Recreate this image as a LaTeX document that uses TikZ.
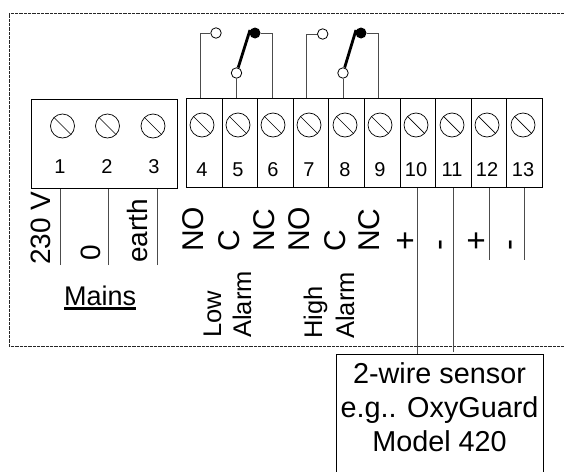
\documentclass[tikz,border=0pt]{standalone}
\usepackage{fontspec}
\setmainfont{Liberation Sans}
\usepackage{tikz}
\tikzset{
	cell/.style={draw, line width=1pt, anchor=north west, minimum width=35.6pt, minimum height=89pt, inner sep=0pt},
	screw/.style={draw, circle, line width=0.7pt, minimum size=24pt, inner sep=0pt},
	num/.style={font=\fontsize{20}{20}\selectfont, inner sep=0pt},
	contact/.style={draw, circle, fill=white, line width=0.8pt, minimum size=10.5pt, inner sep=0pt},
	pivot/.style={circle, fill=black, minimum size=11pt, inner sep=0pt},
	wire/.style={draw=black!70, line width=0.9pt},
	side/.style={rotate=90, anchor=base west, inner sep=0pt, font=\fontsize{28}{28}\selectfont},
	big/.style={rotate=90, anchor=base west, inner sep=0pt, font=\fontsize{30}{30}\selectfont},
	alarm/.style={rotate=90, anchor=base west, inner sep=0pt, font=\fontsize{25.5}{26}\selectfont}
}
\begin{document}
\begin{tikzpicture}[x=1pt, y=-1pt]
	\useasboundingbox (0,0) rectangle (564,471);
	% outer frame
	\coordinate (top-end) at (564,13.5);
	\coordinate (bot-end) at (564,346);
	\draw[dash pattern=on 0.8pt off 0.5pt, line width=1pt, black!85] (top-end) -- (9,13.5) -- (9,346) -- (bot-end);
	% mains block
	\node[cell, minimum width=146pt] (mains) at (30.5,98.5) {};
	\foreach \n/\x/\sx in {1/60/62.5, 2/107/107.5, 3/154/153}
	{
		\node[screw] (s-\n) at (\sx,126) {};
		\draw[line width=0.7pt] (s-\n.135) -- (s-\n.-45);
		\node[num] (n-\n) at (\x,167) {\n};
	}
	% terminal strip
	\foreach \n/\x/\sx in {4/186/202, 5/221.6/238, 6/257.2/273, 7/292.8/309, 8/328.4/345, 9/364/380, 10/399.6/416, 11/435.2/452, 12/470.8/487, 13/506.4/523}
	{
		\node[cell] (t-\n) at (\x,98) {};
		\node[screw] (s-\n) at (\sx,125) {};
		\draw[line width=0.7pt] (s-\n.135) -- (s-\n.-45);
		\node[num] (n-\n) at (\sx,170) {\n};
	}
	% relay contacts
	\node[contact] (lo-no) at (216,33) {};
	\node[contact] (lo-c) at (236.5,73) {};
	\node[pivot] (lo-p) at (255,33) {};
	\coordinate (lo-arm) at (250,30);
	\node[contact] (hi-no) at (322.7,34) {};
	\node[contact] (hi-c) at (343,73) {};
	\node[pivot] (hi-p) at (361,33) {};
	\coordinate (hi-arm) at (356,30);
	\draw[line width=2.8pt] (lo-c) -- (lo-arm);
	\draw[line width=2.8pt] (hi-c) -- (hi-arm);
	\path[wire]
		(lo-no) -| ([xshift=-3.5pt]t-4.north)
		(lo-c) -- (lo-c |- t-5.north)
		(lo-p) -| ([xshift=-3.5pt]t-6.north)
		(hi-no) -| ([xshift=-4.5pt]t-7.north)
		(hi-c) -- (hi-c |- t-8.north)
		(hi-p) -| ([xshift=-4pt]t-9.north);
	% sensor
	\node[draw, line width=0.9pt, anchor=north west, minimum width=206.7pt, minimum height=140pt, inner sep=0pt] (sensor) at (336,354) {};
	\node[font=\fontsize{28.8}{34}\selectfont, align=center, inner sep=0pt] (sensor-text) at (439.5,407) {2-wire sensor\\e.g.. OxyGuard\\Model 420};
	% wires below the terminals
	\coordinate (w-1) at (60,265);
	\coordinate (w-2) at (108,265);
	\coordinate (w-3) at (157,265);
	\coordinate (w-12) at (489,260);
	\coordinate (w-13) at (524.7,260);
	\path[wire]
		(w-1) -- (w-1 |- mains.south)
		(w-2) -- (w-2 |- mains.south)
		(w-3) -- (w-3 |- mains.south)
		(t-10.south) -- (t-10.south |- sensor.north)
		(t-11.south) -- ([yshift=2pt]t-11.south |- sensor.north)
		(t-12.south) -- (t-12.south |- w-12)
		(t-13.south) -- (t-13.south |- w-13);
	% labels
	\node[side] (l-230) at (50,265) {230 V};
	\node[side] (l-0) at (100,261) {0};
	\node[side] (l-earth) at (147,263) {earth};
	\node[big] (l-no1) at (203.5,252) {NO};
	\node[big] (l-c1) at (239,252) {C};
	\node[big] (l-nc1) at (274,252) {NC};
	\node[big] (l-no2) at (309,252) {NO};
	\node[big] (l-c2) at (345,252) {C};
	\node[big] (l-nc2) at (379,252) {NC};
	\node[big, font=\fontsize{33}{33}\selectfont] (l-p1) at (416,251) {+};
	\node[big, font=\fontsize{33}{33}\selectfont] (l-m1) at (449,251) {-};
	\node[big, font=\fontsize{33}{33}\selectfont] (l-p2) at (487,251) {+};
	\node[big, font=\fontsize{33}{33}\selectfont] (l-m2) at (519,251) {-};
	\node[alarm] (l-low) at (221,338) {Low};
	\node[alarm] (l-alarm1) at (251,338) {Alarm};
	\node[alarm] (l-high) at (322,339) {High};
	\node[alarm] (l-alarm2) at (354,339) {Alarm};
	\node[font=\fontsize{27}{27}\selectfont, anchor=base west, inner sep=0pt] (l-mains) at (64,305) {\rlap{\rule[-4.5pt]{72pt}{2.4pt}}Mains};
\end{tikzpicture}
\end{document}
